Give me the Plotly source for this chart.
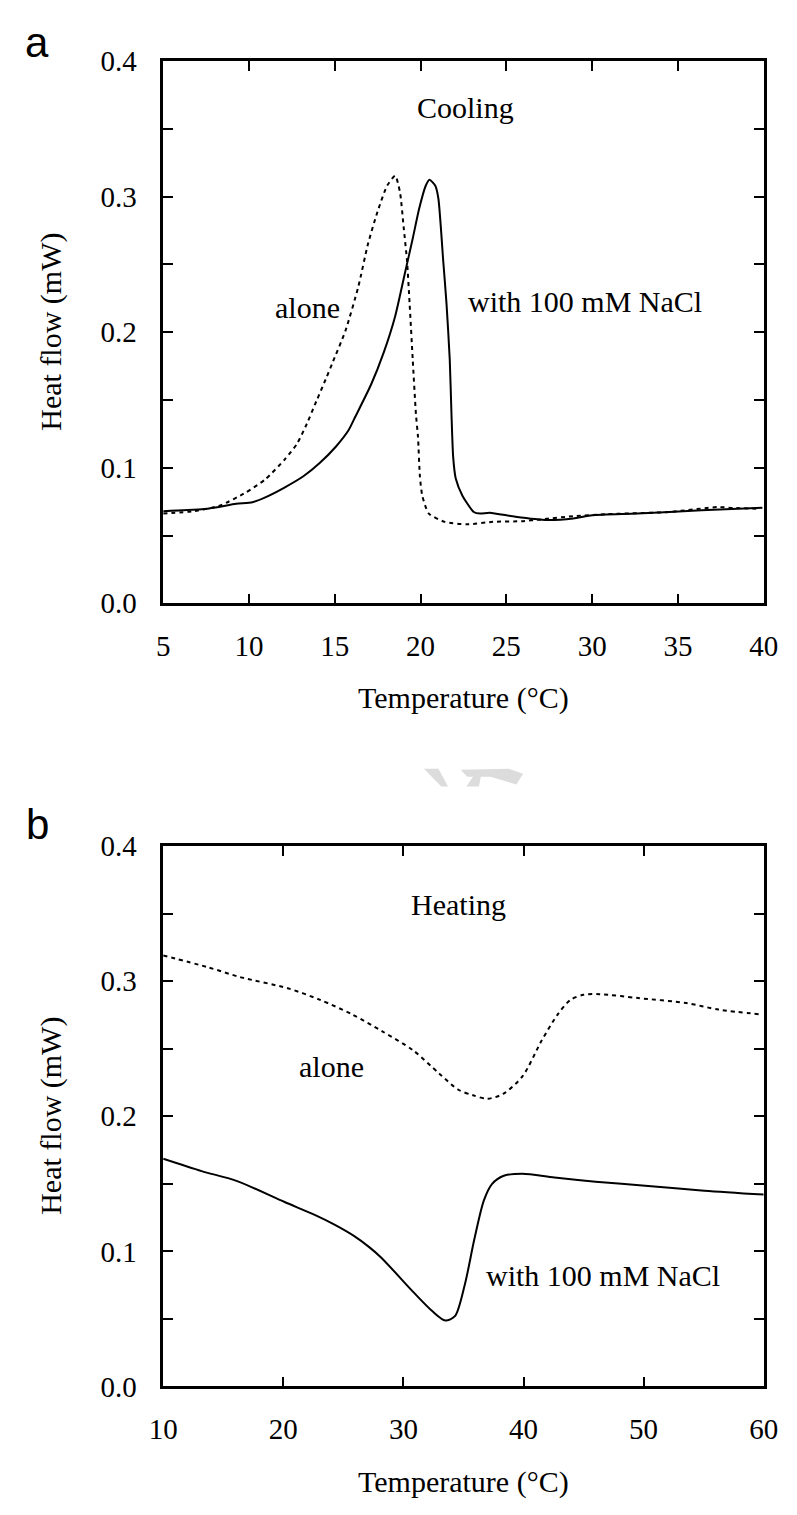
import plotly.graph_objects as go

# ---- panel a: cooling ----
cool_nacl_T = [5.0, 7.58, 9.26, 10.2, 10.95, 12.07, 13.19, 14.12, 15.06, 15.8, 16.18, 17.11,
               17.86, 18.52, 19.08, 19.55, 19.92, 20.3, 20.52, 20.86, 21.04, 21.32, 21.51,
               21.7, 21.8, 21.9, 22.05, 22.44, 23.1, 23.47, 24.03, 25.53, 27.4, 28.9, 30.01,
               32.63, 36.37, 39.92]
cool_nacl_H = [0.068, 0.0698, 0.0734, 0.0746, 0.0782, 0.0854, 0.0939, 0.1035, 0.1155, 0.1276,
               0.1372, 0.1612, 0.1853, 0.2118, 0.2431, 0.2695, 0.2912, 0.308, 0.3125, 0.308,
               0.2984, 0.2527, 0.2214, 0.180, 0.140, 0.108, 0.092, 0.0794, 0.0674, 0.0662,
               0.0669, 0.0638, 0.0614, 0.0626, 0.065, 0.0662, 0.0686, 0.0705]

cool_alone_T = [5.0, 6.83, 8.33, 9.82, 10.95, 12.07, 12.81, 13.37, 13.93, 14.5, 14.87, 15.62,
                16.37, 16.93, 17.49, 18.05, 18.52, 18.8, 19.02, 19.21, 19.36, 19.54, 19.73,
                19.85, 19.96, 20.1, 20.48, 21.41, 22.72, 24.22, 25.9, 27.02, 28.89, 30.76,
                34.5, 37.3, 38.24, 39.73]
cool_alone_H = [0.0662, 0.0681, 0.0722, 0.0818, 0.0915, 0.1059, 0.1179, 0.1324, 0.1492,
                0.1661, 0.1775, 0.2010, 0.2334, 0.2648, 0.2888, 0.308, 0.3153, 0.3032, 0.2767,
                0.2527, 0.2214, 0.1805, 0.1396, 0.1227, 0.0939, 0.0794, 0.0662, 0.0601,
                0.0583, 0.0601, 0.0606, 0.0619, 0.0643, 0.0657, 0.0674, 0.071, 0.0703, 0.0698]

# ---- panel b: heating ----
heat_nacl_T = [10.0, 13.2, 16.1, 20.11, 22.66, 24.3, 25.94, 27.1, 28.14, 30.81, 32.42, 33.49,
               34.29, 35.1, 35.9, 36.7, 37.37, 38.3, 39.91, 42.58, 46.0, 50.13, 55.06, 60.0]
heat_nacl_H = [0.1685, 0.1594, 0.1522, 0.1365, 0.1268, 0.1196, 0.1111, 0.1035, 0.0955, 0.07,
               0.0556, 0.0488, 0.052, 0.0749, 0.1087, 0.1377, 0.1498, 0.1558, 0.1575, 0.1546,
               0.1515, 0.1486, 0.1449, 0.142]

heat_alone_T = [10.0, 13.69, 16.37, 20.38, 23.06, 25.73, 28.27, 30.81, 32.95, 34.55, 35.8,
                37.0, 38.3, 39.91, 41.51, 42.85, 43.92, 45.0, 46.33, 49.54, 53.55, 56.23, 59.8]
heat_alone_H = [0.319, 0.3104, 0.3031, 0.2947, 0.2862, 0.2754, 0.2627, 0.2488, 0.2319, 0.2198,
                0.2155, 0.213, 0.2165, 0.2295, 0.256, 0.2754, 0.2862, 0.2899, 0.2904, 0.2875,
                0.2838, 0.279, 0.2754]

y_ticks = [0, 0.05, 0.1, 0.15, 0.2, 0.25, 0.3, 0.35, 0.4]
y_labels = ["0.0", "", "0.1", "", "0.2", "", "0.3", "", "0.4"]
xa_ticks = [5, 10, 15, 20, 25, 30, 35, 40]
xb_ticks = [10, 20, 30, 40, 50, 60]

W, H = 797, 1515
SERIF = "Liberation Serif"


def px(x):
    return x / W


def py(y):
    return 1 - y / H


fig = go.Figure()
fig.add_trace(go.Scatter(x=cool_alone_T, y=cool_alone_H, mode="lines", line_shape="spline",
                         line=dict(color="black", width=2, dash="4px,4px", smoothing=0.6),
                         xaxis="x", yaxis="y"))
fig.add_trace(go.Scatter(x=cool_nacl_T, y=cool_nacl_H, mode="lines", line_shape="spline",
                         line=dict(color="black", width=2, smoothing=0.6), xaxis="x", yaxis="y"))
fig.add_trace(go.Scatter(x=heat_alone_T, y=heat_alone_H, mode="lines", line_shape="spline",
                         line=dict(color="black", width=2, dash="4px,4px", smoothing=0.8),
                         xaxis="x2", yaxis="y2"))
fig.add_trace(go.Scatter(x=heat_nacl_T, y=heat_nacl_H, mode="lines", line_shape="spline",
                         line=dict(color="black", width=2, smoothing=0.8), xaxis="x2", yaxis="y2"))

axis_common = dict(
    showline=True, linecolor="black", linewidth=2.5, mirror="allticks",
    ticks="inside", ticklen=10, tickwidth=2, tickcolor="black",
    showgrid=False, zeroline=False,
    tickfont=dict(family=SERIF, size=29, color="black"),
)

fig.update_layout(
    width=W, height=H,
    margin=dict(l=0, r=0, t=0, b=0),
    paper_bgcolor="white", plot_bgcolor="white",
    showlegend=False,
    xaxis=dict(axis_common, domain=[px(154), px(778)], range=[5, 40], tickvals=xa_ticks,
               anchor="y", ticklabelstandoff=15),
    yaxis=dict(axis_common, domain=[py(600), py(46)], range=[0, 0.4], tickvals=y_ticks,
               ticktext=y_labels, anchor="x", ticklabelstandoff=18),
    xaxis2=dict(axis_common, domain=[px(154), px(778)], range=[10, 60], tickvals=xb_ticks,
                anchor="y2", ticklabelstandoff=15),
    yaxis2=dict(axis_common, domain=[py(1400), py(848)], range=[0, 0.4], tickvals=y_ticks,
                ticktext=y_labels, anchor="x2", ticklabelstandoff=18),
)

serif = dict(family=SERIF, size=30, color="black")
notes = [
    # panel a
    dict(x=22.6, y=0.366, xref="x", yref="y", text="Cooling"),
    dict(x=13.41, y=0.218, xref="x", yref="y", text="alone"),
    dict(x=29.57, y=0.2224, xref="x", yref="y", text="with 100 mM NaCl"),
    # panel b
    dict(x=34.56, y=0.3565, xref="x2", yref="y2", text="Heating"),
    dict(x=24.04, y=0.237, xref="x2", yref="y2", text="alone"),
    dict(x=46.6, y=0.0819, xref="x2", yref="y2", text="with 100 mM NaCl"),
    # axis titles
    dict(x=px(38), y=py(323), xref="paper", yref="paper", text="Heat flow (mW)", textangle=-90),
    dict(x=px(466), y=py(697), xref="paper", yref="paper", text="Temperature (°C)"),
    dict(x=px(38), y=py(1124), xref="paper", yref="paper", text="Heat flow (mW)", textangle=-90),
    dict(x=px(466), y=py(1498), xref="paper", yref="paper", text="Temperature (°C)"),
]
for n in notes:
    fig.add_annotation(showarrow=False, font=serif, xanchor="center", yanchor="middle", **n)

# panel letters
for letter, ypos in [("a", 27), ("b", 826)]:
    fig.add_annotation(x=px(23), y=py(ypos), xref="paper", yref="paper", text=letter,
                       showarrow=False, xanchor="center", yanchor="middle",
                       font=dict(family="Liberation Sans", size=42, color="black"))

# faint watermark fragment between the panels
def poly(pts):
    return "M " + " L ".join(f"{px(a):.4f},{py(b):.4f}" for a, b in pts) + " Z"

wm = [
    [(425, 769), (440, 769), (450, 787), (443, 787)],
    [(463, 770), (513, 769), (528, 774), (521, 785), (494, 777), (484, 777), (482, 787),
     (469, 787), (476, 777), (470, 777)],
]
for p in wm:
    fig.add_shape(type="path", path=poly(p), xref="paper", yref="paper",
                  fillcolor="#dcdcdc", line=dict(width=0), layer="below")

fig.write_html("out.html", config={"displayModeBar": False},
               post_script="document.body.style.margin='0';")
